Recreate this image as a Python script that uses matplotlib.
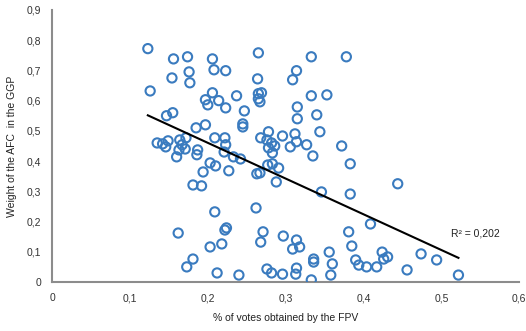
import numpy as np
import matplotlib
matplotlib.use("Agg")
import matplotlib.pyplot as plt
from matplotlib.ticker import FuncFormatter, MultipleLocator

# share of FPV votes vs. weight of the AFC in the GGP
fpv_votes = [
    0.123, 0.156, 0.174, 0.206, 0.265, 0.333, 0.378, 0.208, 0.223, 0.176,
    0.154, 0.177, 0.314, 0.309, 0.264, 0.126, 0.206, 0.197, 0.214, 0.200,
    0.223, 0.237, 0.265, 0.269, 0.265, 0.267, 0.247, 0.245, 0.245, 0.147,
    0.155, 0.185, 0.197, 0.333, 0.353, 0.315, 0.340, 0.315, 0.344, 0.278,
    0.296, 0.268, 0.276, 0.282, 0.286, 0.278, 0.283, 0.312, 0.314, 0.306,
    0.327, 0.335, 0.372, 0.209, 0.222, 0.223, 0.221, 0.135, 0.142, 0.149,
    0.146, 0.164, 0.172, 0.167, 0.163, 0.171, 0.187, 0.186, 0.160, 0.203,
    0.210, 0.194, 0.181, 0.192, 0.227, 0.233, 0.242, 0.277, 0.283, 0.291,
    0.263, 0.267, 0.288, 0.346, 0.383, 0.383, 0.444, 0.409, 0.262, 0.209,
    0.162, 0.222, 0.224, 0.203, 0.218, 0.181, 0.173, 0.212, 0.240, 0.271,
    0.268, 0.297, 0.314, 0.318, 0.309, 0.336, 0.336, 0.356, 0.360, 0.358,
    0.381, 0.385, 0.276, 0.282, 0.296, 0.314, 0.313, 0.333, 0.390, 0.394,
    0.404, 0.417, 0.424, 0.426, 0.431, 0.456, 0.474, 0.494, 0.522,
]
afc_weight = [
    0.772, 0.738, 0.745, 0.738, 0.758, 0.745, 0.745, 0.702, 0.699, 0.695,
    0.675, 0.659, 0.699, 0.669, 0.672, 0.632, 0.626, 0.603, 0.600, 0.586,
    0.576, 0.616, 0.623, 0.626, 0.606, 0.596, 0.566, 0.523, 0.513, 0.550,
    0.560, 0.510, 0.520, 0.616, 0.619, 0.579, 0.553, 0.540, 0.497, 0.497,
    0.483, 0.477, 0.470, 0.460, 0.450, 0.444, 0.427, 0.490, 0.464, 0.447,
    0.454, 0.417, 0.450, 0.477, 0.477, 0.454, 0.430, 0.460, 0.457, 0.467,
    0.447, 0.470, 0.477, 0.454, 0.437, 0.440, 0.437, 0.421, 0.414, 0.394,
    0.384, 0.364, 0.321, 0.318, 0.368, 0.414, 0.407, 0.387, 0.391, 0.377,
    0.358, 0.361, 0.331, 0.298, 0.391, 0.291, 0.325, 0.192, 0.245, 0.232,
    0.162, 0.172, 0.179, 0.116, 0.126, 0.076, 0.050, 0.030, 0.023, 0.166,
    0.132, 0.152, 0.139, 0.116, 0.109, 0.076, 0.066, 0.099, 0.060, 0.023,
    0.166, 0.119, 0.043, 0.030, 0.026, 0.046, 0.026, 0.007, 0.073, 0.056,
    0.050, 0.050, 0.099, 0.076, 0.083, 0.040, 0.093, 0.073, 0.023,
]
r2_label = "R² = 0,202"

x = np.array(fpv_votes)
y = np.array(afc_weight)
slope, intercept = np.polyfit(x, y, 1)
xs = np.array([x.min(), x.max()])

plt.rcParams['font.family'] = ['Liberation Sans', 'DejaVu Sans']
fig = plt.figure(figsize=(5.26, 3.31), dpi=100)
ax = fig.add_axes([0.099, 0.148, 0.888, 0.822])

ax.scatter(x, y, s=44, facecolors='none', edgecolors='#3a7bbf', linewidths=1.5, zorder=3)
ax.plot(xs, slope * xs + intercept, color='black', lw=1.5, zorder=4)
ax.text(0.512, 0.159, r2_label, fontsize=7.5, va='center', ha='left', color='#222222')

ax.set_xlim(0, 0.6)
ax.set_ylim(0, 0.9)
ax.xaxis.set_major_locator(MultipleLocator(0.1))
ax.yaxis.set_major_locator(MultipleLocator(0.1))
comma = FuncFormatter(lambda v, p: '0' if abs(v) < 1e-9 else f'{v:.1f}'.replace('.', ','))
ax.xaxis.set_major_formatter(comma)
ax.yaxis.set_major_formatter(comma)
ax.tick_params(length=0, labelsize=7.5, colors='#333333', pad=8)

for side in ('top', 'right'):
    ax.spines[side].set_visible(False)
for side in ('left', 'bottom'):
    ax.spines[side].set_color('#8c8c8c')
    ax.spines[side].set_linewidth(1.5)

ax.set_xlabel('% of votes obtained by the FPV', fontsize=7.5, color='#222222', labelpad=7)
ax.set_ylabel('Weight of the AFC  in the GGP', fontsize=7.5, color='#222222', labelpad=7)

fig.savefig('out.png', dpi=100)
